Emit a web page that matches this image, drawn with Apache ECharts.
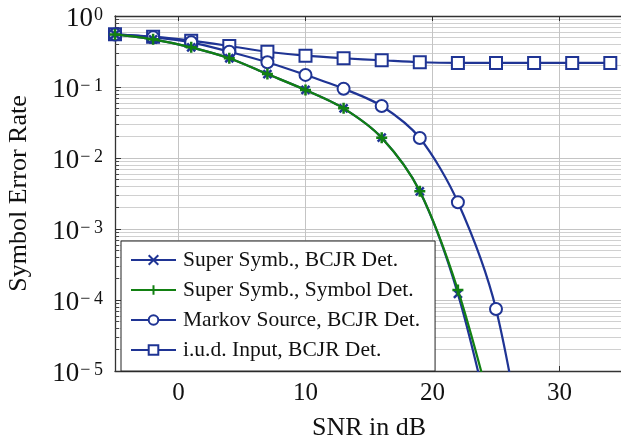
<!DOCTYPE html>
<html>
<head>
<meta charset="utf-8">
<script src="https://cdn.jsdelivr.net/npm/echarts@6/dist/echarts.min.js"></script>
<style>
html, body { margin: 0; padding: 0; background: #fff; }
#chart { width: 621px; height: 440px; }
</style>
</head>
<body>
<div id="chart"></div>
<script>
// SNR points (dB)
var snr = [-5, -2, 1, 4, 7, 10, 13, 16, 19, 22, 25, 28, 31, 34]
// symbol error rates; the last value of the falling curves lies below the plot
var superBcjr = [0.55, 0.469, 0.362, 0.254, 0.152, 0.0908, 0.0501, 0.0193, 0.0034, 0.000122, 0.0000008]
var superSymbol = [0.55, 0.469, 0.362, 0.254, 0.152, 0.0908, 0.0501, 0.0193, 0.0034, 0.000138, 0.0000016]
var markov = [0.55, 0.5, 0.426, 0.314, 0.223, 0.148, 0.0946, 0.054, 0.0191, 0.00238, 0.0000746, 0.0000001]
var iud = [0.552, 0.511, 0.449, 0.378, 0.314, 0.276, 0.254, 0.238, 0.223, 0.218, 0.218, 0.218, 0.218, 0.218]
var seriesNames = ['Super Symb., BCJR Det.', 'Super Symb., Symbol Det.', 'Markov Source, BCJR Det.', 'i.u.d. Input, BCJR Det.']
var xTicks = [0, 10, 20, 30]

var blue = '#1f3494'
var green = '#128012'
var serif = "'Liberation Serif', 'Times New Roman', serif"

function pairs (vals) {
  return vals.map(function (v, i) { return [snr[i], v] })
}

function makeSeries (name, vals, color, symbol, size, bw, z) {
  return {
    name: name,
    type: 'line',
    data: pairs(vals),
    smooth: 0.3,
    symbol: symbol,
    symbolSize: size,
    showAllSymbol: true,
    clip: true,
    z: z,
    lineStyle: { color: color, width: 2.2 },
    itemStyle: { color: color, borderColor: color, borderWidth: bw }
  }
}

var myChart = echarts.init(document.getElementById('chart'), null, { renderer: 'canvas' })
var option = {
  backgroundColor: '#fff',
  animation: false,
  textStyle: { fontFamily: serif },
  grid: { left: 115, right: -2, top: 16, bottom: 69, containLabel: false, outerBoundsMode: 'none' },
  legend: {
    orient: 'vertical',
    left: 121,
    top: 241,
    data: seriesNames,
    itemWidth: 45,
    itemHeight: 12,
    itemGap: 8,
    padding: [8, 15, 10, 9],
    backgroundColor: '#fff',
    borderColor: '#222',
    borderWidth: 1,
    borderRadius: 0,
    textStyle: { fontFamily: serif, fontSize: 21.5, color: '#111', padding: [0, 0, 0, 2] }
  },
  xAxis: [
    {
      type: 'value',
      min: -5,
      max: 35,
      splitNumber: 4,
      name: 'SNR in dB',
      nameLocation: 'middle',
      nameGap: 44,
      nameTextStyle: { fontFamily: serif, fontSize: 26, color: '#111' },
      axisLine: { show: true, onZero: false, lineStyle: { color: '#333', width: 1.3 } },
      axisTick: { show: true, inside: true, length: 5, lineStyle: { color: '#333' } },
      axisLabel: {
        margin: 10,
        fontFamily: serif,
        fontSize: 25,
        color: '#111',
        formatter: function (v) { return xTicks.indexOf(v) >= 0 ? String(v) : '' }
      },
      splitLine: { show: true, lineStyle: { color: '#c4c4c4', width: 1 } }
    },
    {
      type: 'value',
      position: 'top',
      min: -5,
      max: 35,
      splitNumber: 4,
      axisLine: { show: true, onZero: false, lineStyle: { color: '#333', width: 1.3 } },
      axisTick: { show: true, inside: true, length: 5, lineStyle: { color: '#333' } },
      axisLabel: { show: false },
      splitLine: { show: false }
    }
  ],
  yAxis: {
    type: 'log',
    logBase: 10,
    min: 1e-5,
    max: 1,
    name: 'Symbol Error Rate',
    nameLocation: 'middle',
    nameGap: 83,
    nameTextStyle: { fontFamily: serif, fontSize: 26, color: '#111' },
    axisLine: { show: true, onZero: false, lineStyle: { color: '#333', width: 1.3 } },
    axisTick: { show: true, inside: true, length: 6, lineStyle: { color: '#333' } },
    minorTick: { show: true, splitNumber: 9, length: 4, lineStyle: { color: '#444' } },
    axisLabel: {
      margin: 12,
      padding: [6, 0, 0, 0],
      formatter: function (v) {
        var e = Math.round(Math.log10(v))
        return '{b|10}{s|' + (e < 0 ? '\u2212\u2009' + (-e) : e) + '}'
      },
      rich: {
        b: { fontFamily: serif, fontSize: 27, color: '#111' },
        s: { fontFamily: serif, fontSize: 18, color: '#111', verticalAlign: 'top', padding: [1, 0, 0, 1] }
      }
    },
    splitLine: { show: true, lineStyle: { color: '#c4c4c4', width: 1 } },
    minorSplitLine: { show: true, lineStyle: { color: '#d0d0d0', width: 1 } }
  },
  series: [
    makeSeries(seriesNames[0], superBcjr, blue, 'path://M0,0L10,10M10,0L0,10', 8, 2.5, 4),
    makeSeries(seriesNames[1], superSymbol, green, 'path://M5,0L5,10M0,5L10,5', 11, 2.5, 5),
    makeSeries(seriesNames[2], markov, blue, 'emptyCircle', 12, 2.2, 3),
    makeSeries(seriesNames[3], iud, blue, 'emptyRect', 12, 2.2, 2)
  ]
}
myChart.setOption(option)
</script>
</body>
</html>
